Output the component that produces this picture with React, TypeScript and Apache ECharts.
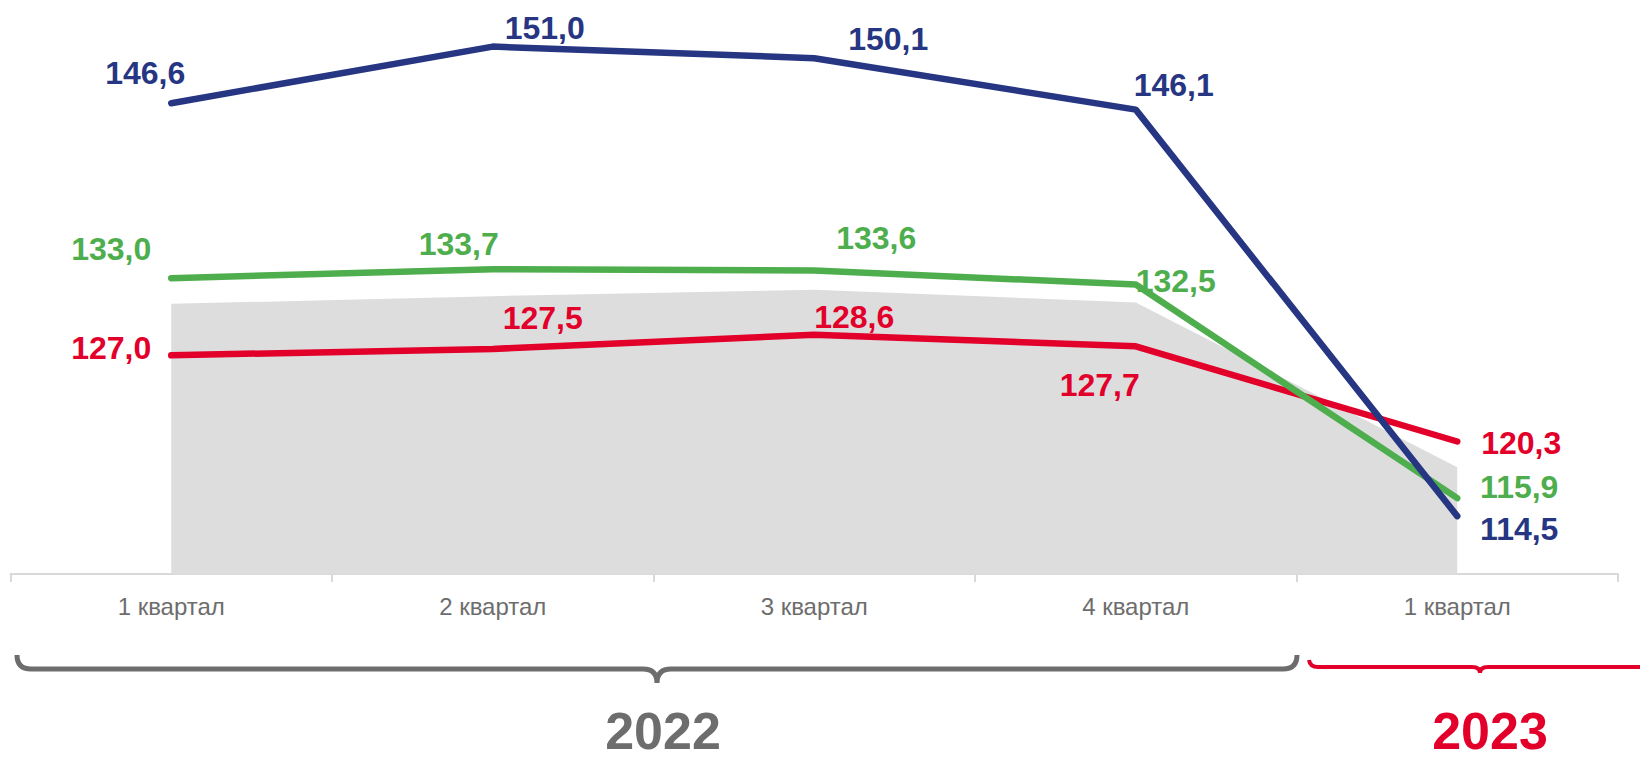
import React, { useEffect, useRef } from "react";
import * as echarts from "echarts";

const categories = ["1 квартал", "2 квартал", "3 квартал", "4 квартал", "1 квартал"];
const blueValues = [146.6, 151.0, 150.1, 146.1, 114.5];
const greenValues = [133.0, 133.7, 133.6, 132.5, 115.9];
const redValues = [127.0, 127.5, 128.6, 127.7, 120.3];
const grayValues = [131.0, 131.6, 132.1, 131.1, 118.3];
const yearLabels = ["2022", "2023"];

// label offsets (style only)
const blueOffsets = [[-26, -30], [52, -19], [74, -19], [38, -25], [62, 13]];
const greenOffsets = [[-60, -29], [-34, -25], [62, -32], [40, -4], [62, -11]];
const redOffsets = [[-60, -7], [50, -31], [40, -18], [-36, 39], [64, 1]];

const BLUE = "#263682";
const GREEN = "#4eae4e";
const RED = "#e2002b";
const GRAY_TXT = "#6d6d6d";

const fmt = (v: number) => v.toFixed(1).replace(".", ",");

function lineSeries(name: string, values: number[], offsets: number[][], color: string) {
  return {
    name,
    type: "line",
    data: values.map((v, i) => ({
      value: v,
      label: { offset: offsets[i] },
    })),
    symbol: "circle",
    symbolSize: 1,
    itemStyle: { color },
    lineStyle: { color, width: 6.5, cap: "round", join: "round" },
    label: {
      show: true,
      position: "inside",
      color,
      fontFamily: "Liberation Sans, Arial, sans-serif",
      fontWeight: "bold",
      fontSize: 32,
      formatter: (p: any) => fmt(p.value),
    },
    z: 3,
  };
}

export default function App() {
  const ref = useRef<HTMLDivElement>(null);
  useEffect(() => {
    document.body.style.margin = "0";
    if (!ref.current) return;
    echarts.graphic.registerShape(
      "grayBrace",
      echarts.graphic.extendPath(
        "M17,655 Q17,669 31,669 L643,669 Q657,669 657,683 Q657,669 671,669 L1283,669 Q1297,669 1297,655",
        {}
      )
    );
    echarts.graphic.registerShape(
      "redBrace",
      echarts.graphic.extendPath(
        "M1309,660 Q1310,667 1318,667 L1472,667 Q1480,667 1480,673 Q1480,667 1488,667 L1645,667",
        {}
      )
    );
    const chart = echarts.init(ref.current, null, { renderer: "svg" });
    chart.setOption({
      animation: false,
      grid: { left: 10.5, right: 22, top: 8, bottom: 187 },
      xAxis: {
        type: "category",
        data: categories,
        boundaryGap: true,
        axisLine: { lineStyle: { color: "#d9d9d9", width: 2 } },
        axisTick: { show: true, length: 8, lineStyle: { color: "#d9d9d9", width: 2 } },
        axisLabel: {
          color: GRAY_TXT,
          fontFamily: "Liberation Sans, Arial, sans-serif",
          fontSize: 24,
          margin: 20,
        },
      },
      yAxis: {
        type: "value",
        min: 110,
        max: 154,
        show: false,
        splitLine: { show: false },
      },
      series: [
        {
          name: "area",
          type: "line",
          data: grayValues,
          symbol: "none",
          lineStyle: { width: 0 },
          areaStyle: { color: "#dddddd", opacity: 1 },
          z: 1,
        },
        lineSeries("red", redValues, redOffsets, RED),
        lineSeries("green", greenValues, greenOffsets, GREEN),
        lineSeries("blue", blueValues, blueOffsets, BLUE),
      ],
      graphic: [
        {
          type: "grayBrace",
          x: 0,
          y: 0,
          style: { stroke: GRAY_TXT, lineWidth: 5, fill: "none" },
        },
        {
          type: "redBrace",
          x: 0,
          y: 0,
          style: { stroke: RED, lineWidth: 4, fill: "none" },
        },
        {
          type: "text",
          x: 663,
          y: 757,
          style: {
            text: yearLabels[0],
            fill: GRAY_TXT,
            font: "bold 52px 'Liberation Sans', Arial, sans-serif",
            align: "center",
            verticalAlign: "bottom",
          },
        },
        {
          type: "text",
          x: 1490,
          y: 757,
          style: {
            text: yearLabels[1],
            fill: RED,
            font: "bold 52px 'Liberation Sans', Arial, sans-serif",
            align: "center",
            verticalAlign: "bottom",
          },
        },
      ],
    });
    return () => chart.dispose();
  }, []);
  return <div ref={ref} style={{ width: 1640, height: 761 }} />;
}
